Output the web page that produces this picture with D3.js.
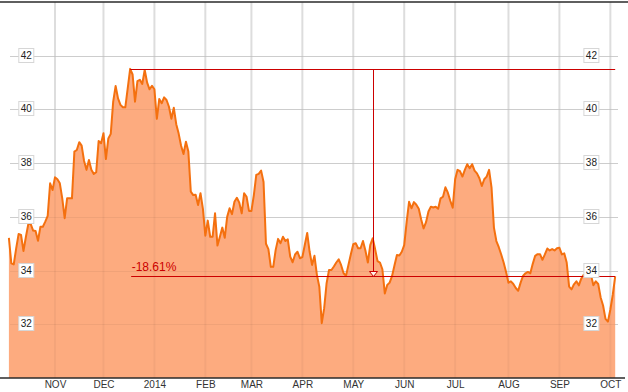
<!DOCTYPE html>
<html><head><meta charset="utf-8">
<script src="https://cdn.jsdelivr.net/npm/d3@7"></script>
<style>
body{margin:0;background:#fff}
svg{display:block}
text{font-family:"Liberation Sans",Arial,sans-serif}
</style>
</head><body>
<svg id="chart" width="628" height="392"></svg>
<script>
// daily closing prices (one per trading day, Oct 2013 – Oct 2014)
const prices = [
35.22,34.27,34.23,34.83,35.36,35.33,34.73,35.25,35.73,35.73,
35.49,35.47,35.11,35.63,35.63,35.82,36.04,37.25,37.0,37.47,
37.4,37.25,36.69,35.95,36.69,36.69,36.69,38.43,38.49,38.78,
38.65,38.08,37.75,38.12,37.75,37.6,37.66,38.82,38.74,39.11,
38.15,38.92,39.09,40.29,40.87,40.41,40.17,40.08,40.08,40.79,
41.51,41.3,40.29,41.05,41.1,40.95,41.47,41.0,40.75,40.88,
40.75,39.65,40.39,40.23,40.45,40.35,40.1,39.65,40.06,39.45,
39.1,38.65,38.34,38.8,38.43,36.94,36.81,36.82,36.44,36.88,
36.3,35.3,35.86,35.26,35.26,36.13,34.93,35.26,35.6,35.22,
36.0,36.32,36.1,36.56,36.71,36.53,36.13,36.88,36.75,36.22,
36.22,36.81,37.56,37.6,37.72,37.3,35.0,34.8,34.14,34.14,
34.77,35.18,35.02,35.26,35.1,35.16,34.52,34.31,34.6,34.7,
34.46,34.5,34.95,35.4,34.7,34.21,34.55,33.84,33.4,32.04,
32.6,33.53,34.02,34.02,34.15,34.3,34.42,34.2,33.9,33.81,
34.21,34.61,34.98,35.02,34.83,34.83,35.1,34.75,34.3,34.95,
35.2,34.8,34.35,34.3,34.05,33.15,33.46,33.55,33.8,34.2,
34.58,34.56,34.7,34.95,35.8,36.56,36.32,36.55,36.45,36.3,
35.9,35.57,35.8,36.2,36.38,36.35,36.38,36.3,36.69,36.75,
37.1,36.9,36.6,36.34,37.4,37.75,37.7,37.5,37.75,37.96,
37.81,37.96,37.72,37.62,37.44,37.15,37.4,37.5,37.75,37.1,
35.6,35.1,34.87,34.6,34.3,33.95,33.55,33.6,33.5,33.35,
33.25,33.55,33.8,33.9,33.95,33.9,34.25,34.55,34.61,34.61,
34.4,34.6,34.82,34.75,34.8,34.75,34.83,34.85,34.6,34.64,
34.3,33.4,33.3,33.49,33.6,33.45,33.7,33.84,33.86,33.9,
33.85,33.45,33.6,33.5,33.0,32.7,32.2,32.1,32.55,33.1,
33.78
];
// first trading day of each month (index into prices) and its label
const monthIndex  = [19,39,60,81,100,121,142,163,184,206,227,248];
const monthLabels = ["NOV","DEC","2014","FEB","MAR","APR","MAY","JUN","JUL","AUG","SEP","OCT"];
const yTicks = [32,34,36,38,40,42];
const yDomain = [30,44];
// drawdown annotation
const arrowIndex = [150];
const changeLabel = ["-18.61%"];

const W = 628, H = 392;
const svg = d3.select("#chart");
const x = d3.scaleLinear().domain([0, prices.length-1]).range([8.9, 615.2]);
const y = d3.scaleLinear().domain(yDomain).range([378, 2]);

// vertical grid
const gridV = svg.append("g");
gridV.selectAll("line").data(monthIndex).join("line")
  .attr("x1", d=>x(d)).attr("x2", d=>x(d)).attr("y1", 2).attr("y2", 378)
  .attr("stroke", "#e6e6e6").attr("stroke-width", 2);
// horizontal grid
svg.append("g").selectAll("line").data(yTicks).join("line")
  .attr("x1", 10).attr("x2", 618).attr("y1", d=>Math.round(y(d))+0.5).attr("y2", d=>Math.round(y(d))+0.5)
  .attr("stroke", "#d9d9d9").attr("stroke-width", 1);

// area + line
const area = d3.area().x((d,i)=>x(i)).y0(y(yDomain[0])).y1(d=>y(d));
const line = d3.line().x((d,i)=>x(i)).y(d=>y(d));
svg.append("path").datum(prices).attr("d", area).attr("fill", "#fdab7f");
// grid faintly visible over fill
svg.append("g").selectAll("line").data(monthIndex).join("line")
  .attr("x1", d=>x(d)).attr("x2", d=>x(d)).attr("y1", 2).attr("y2", 378)
  .attr("stroke", "#000").attr("stroke-opacity", 0.04).attr("stroke-width", 2);
svg.append("g").selectAll("line").data(yTicks).join("line")
  .attr("x1", 10).attr("x2", 618).attr("y1", d=>Math.round(y(d))+0.5).attr("y2", d=>Math.round(y(d))+0.5)
  .attr("stroke", "#000").attr("stroke-opacity", 0.05);
svg.append("path").datum(prices).attr("d", line).attr("fill", "none")
  .attr("stroke", "#f4700f").attr("stroke-width", 2).attr("stroke-linejoin", "round");

// annotation
const maxV = d3.max(prices), maxI = prices.indexOf(maxV);
const lastI = prices.length-1, lastV = prices[lastI];
const red = "#cc0000";
const ann = svg.append("g");
ann.append("line").attr("x1", x(maxI)).attr("x2", x(lastI))
  .attr("y1", Math.round(y(maxV))+0.5).attr("y2", Math.round(y(maxV))+0.5)
  .attr("stroke", red).attr("stroke-width", 1);
ann.append("line").attr("x1", x(maxI)+1).attr("x2", x(lastI))
  .attr("y1", Math.round(y(lastV))+0.5).attr("y2", Math.round(y(lastV))+0.5)
  .attr("stroke", red).attr("stroke-width", 1);
const ax = Math.round(x(arrowIndex[0]))+0.5;
ann.append("line").attr("x1", ax).attr("x2", ax)
  .attr("y1", Math.round(y(maxV))+0.5).attr("y2", Math.round(y(lastV))-4.5)
  .attr("stroke", red).attr("stroke-width", 1);
const ty = Math.round(y(lastV))+0.5;
ann.append("path")
  .attr("d", `M${ax-4},${ty-5}L${ax+4},${ty-5}L${ax},${ty}Z`)
  .attr("fill", "#fff3ea").attr("stroke", red).attr("stroke-width", 1);
ann.append("text").attr("x", x(maxI)+1.5).attr("y", ty-6)
  .attr("fill", red).attr("font-size", 12).text(changeLabel[0]);

// frame lines
svg.append("line").attr("x1", 0).attr("x2", W).attr("y1", 2).attr("y2", 2)
  .attr("stroke", "#2a2a2a").attr("stroke-width", 1.5);
svg.append("line").attr("x1", 0).attr("x2", 625).attr("y1", 378).attr("y2", 378)
  .attr("stroke", "#2a2a2a").attr("stroke-width", 1.5);

// x axis labels
const xAxis = d3.axisBottom(x).tickValues(monthIndex)
  .tickFormat((d,i)=>monthLabels[i]).tickSize(0).tickPadding(0);
const gx = svg.append("g").attr("transform", "translate(0,381)").call(xAxis);
gx.select(".domain").remove();
gx.selectAll("text").attr("font-size", 10).attr("fill", "#333")
  .attr("font-family", "Liberation Sans, Arial, sans-serif").attr("dy", "0.71em");

// y labels in boxes, both sides
[26.3, 591.4].forEach(cx=>{
  const g = svg.append("g").selectAll("g").data(yTicks).join("g")
    .attr("transform", d=>`translate(${cx},${Math.round(y(d))-0.5})`);
  g.append("rect").attr("x", -7.5).attr("y", -7).attr("width", 15).attr("height", 14)
    .attr("fill", "#fff").attr("stroke", "#d6d6d6").attr("stroke-width", 1);
  g.append("text").attr("text-anchor", "middle").attr("dy", "0.36em")
    .attr("font-size", 10).attr("fill", "#222").text(d=>d);
});
</script>
</body></html>
